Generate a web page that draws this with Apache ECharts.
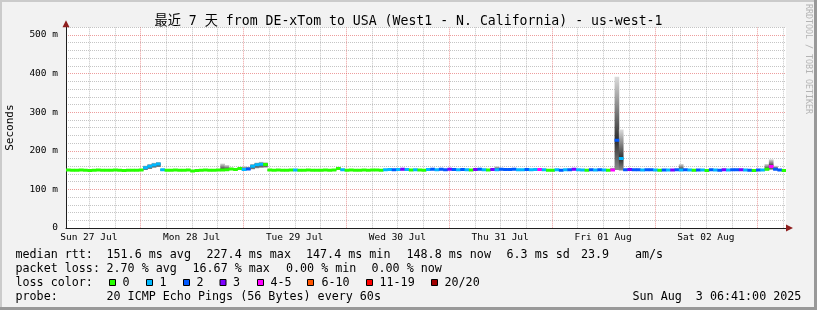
<!DOCTYPE html>
<html><head><meta charset="utf-8">
<script src="https://cdn.jsdelivr.net/npm/echarts@6/dist/echarts.min.js"></script>
<style>html,body{margin:0;padding:0;background:#f2f2f2;overflow:hidden}#c{width:817px;height:310px}</style>
</head><body><div id="c"></div>
<script>
// ---------------- data ----------------
const titleText = '最近 7 天 from DE-xTom to USA (West1 - N. California) - us-west-1';
const yAxisTitle = 'Seconds';
const dayLabels = ['Sun 27 Jul', 'Mon 28 Jul', 'Tue 29 Jul', 'Wed 30 Jul', 'Thu 31 Jul', 'Fri 01 Aug', 'Sat 02 Aug'];
const yTickValues = [0, 100, 200, 300, 400, 500];
const yTickLabels = ['0', '100 m', '200 m', '300 m', '400 m', '500 m'];

// hourly median RTT (ms), starting Sun 27 Jul 06:41
const median = [
  150.2,149.8,149.5,150.1,149.9,149.3,149.6,150.0,149.7,149.4,149.8,150.3,149.6,149.2,149.5,149.9,149.6,150.1,156.0,160.0,163.0,165.5,150.6,149.8,
  149.6,150.0,149.4,149.8,150.2,147.4,149.3,149.7,150.1,149.6,149.9,150.3,150.5,151.0,153.0,151.5,154.0,151.5,153.0,160.0,164.0,165.0,164.5,150.0,
  149.8,150.2,149.6,149.9,150.3,150.0,149.5,149.8,150.1,149.7,149.4,149.9,150.2,149.6,150.5,154.0,151.0,149.8,150.0,149.6,149.9,150.2,149.7,150.0,
  150.1,149.6,151.2,151.8,150.9,151.5,152.0,151.3,150.4,151.1,150.2,149.9,151.4,152.2,151.0,151.9,150.8,152.3,151.6,150.9,151.8,151.2,150.3,151.7,
  151.9,151.2,150.1,151.6,151.0,152.1,151.4,151.8,152.4,151.1,150.7,151.3,150.9,151.5,151.8,150.6,149.8,149.5,150.9,149.7,150.8,151.2,151.9,150.6,
  150.4,149.9,150.6,150.2,151.0,150.5,149.7,150.3,227.4,180.2,150.8,151.3,150.6,150.9,150.2,151.1,150.7,150.0,149.6,150.3,150.1,150.5,150.9,150.4,
  150.6,150.2,149.5,150.0,150.4,149.3,150.7,150.1,149.8,150.9,150.3,150.8,151.0,151.2,150.4,149.9,149.2,150.5,150.1,152.0,159.5,152.3,150.2,148.8
];
// lost pings out of 20, per hour
const loss = [
  0,0,0,0,0,0,0,0,0,0,0,0,0,0,0,0,0,0,1,1,1,1,1,0,
  0,0,0,0,0,0,0,0,0,0,0,0,0,0,0,0,0,1,2,1,1,1,0,0,
  0,0,0,0,0,1,0,0,0,0,0,0,0,0,0,0,1,0,0,0,0,0,0,0,
  0,0,1,1,2,1,3,1,0,1,0,0,1,2,1,2,2,3,2,1,2,1,0,3,
  2,1,0,3,1,2,2,2,2,1,1,2,1,1,4,1,0,0,1,2,1,2,3,1,
  1,0,2,1,2,1,0,4,2,1,2,3,2,2,1,2,2,1,0,2,1,3,2,1,
  2,1,0,2,1,0,2,1,2,3,1,2,2,3,1,2,0,2,1,0,4,2,2,0
];
// slowest ping per hour (ms)
const pingMax = [
  152.5,152.0,151.8,152.4,152.1,151.6,151.9,152.3,152.0,151.7,152.1,152.6,151.9,151.5,151.8,152.2,151.9,152.4,162.0,166.0,169.0,171.0,153.0,152.1,
  151.9,152.3,151.7,152.1,152.5,149.8,151.6,152.0,152.4,151.9,152.2,152.6,167.0,163.0,156.0,154.5,156.5,160.0,159.0,166.0,170.0,171.5,170.5,152.3,
  152.1,152.5,151.9,152.2,152.6,152.3,151.8,152.1,152.4,152.0,151.7,152.2,152.5,151.9,152.8,159.0,153.5,152.1,152.3,151.9,152.2,152.5,152.0,152.3,
  152.4,151.9,153.5,154.1,153.2,153.8,154.3,153.6,152.7,153.4,152.5,152.2,153.7,154.5,153.3,154.2,153.1,154.6,153.9,153.2,154.1,153.5,152.6,154.0,
  154.2,153.5,152.4,153.9,160.0,154.4,153.7,154.1,154.7,153.4,153.0,153.6,153.2,153.8,154.1,152.9,152.1,151.8,153.2,152.0,153.1,153.5,154.2,152.9,
  152.7,152.2,152.9,152.5,153.3,152.8,152.0,156.0,392.0,255.0,153.1,153.6,152.9,153.2,152.5,153.4,153.0,152.3,151.9,152.6,152.4,152.8,153.2,166.0,
  152.9,152.5,151.8,152.3,152.7,151.6,153.0,152.4,152.1,153.2,152.6,153.1,153.3,153.5,152.7,152.2,151.5,152.8,152.4,166.0,178.0,161.0,152.5,151.1
];
// fastest ping per hour (ms)
const pingMin = [
  148.3,147.9,147.6,148.2,148.0,147.4,147.7,148.1,147.8,147.5,147.9,148.4,147.7,147.3,147.6,148.0,147.7,148.2,150.0,153.0,156.0,158.0,148.4,147.9,
  147.7,148.1,147.5,147.9,148.3,145.6,147.4,147.8,148.2,147.7,148.0,148.4,148.3,148.8,150.8,149.8,151.3,149.3,150.8,152.0,155.0,156.0,156.5,148.1,
  147.9,148.3,147.7,148.0,148.4,148.1,147.6,147.9,148.2,147.8,147.5,148.0,148.3,147.7,148.3,150.0,149.0,147.9,148.1,147.7,148.0,148.3,147.8,148.1,
  148.2,147.7,149.0,149.6,148.7,149.3,149.8,149.1,148.2,148.9,148.0,147.7,149.2,150.0,148.8,149.7,148.6,150.1,149.4,148.7,149.6,149.0,148.1,149.5,
  149.7,149.0,147.9,149.4,148.8,149.9,149.2,149.6,150.2,148.9,148.5,149.1,148.7,149.3,149.6,148.4,147.6,147.3,148.7,147.5,148.6,149.0,149.7,148.4,
  148.2,147.7,148.4,148.0,148.8,148.3,147.5,148.1,150.0,149.0,148.6,149.1,148.4,148.7,148.0,148.9,148.5,147.8,147.4,148.1,147.9,148.3,148.7,148.2,
  148.4,148.0,147.3,147.8,148.2,147.1,148.5,147.9,147.6,148.7,148.1,148.6,148.8,149.0,148.2,147.7,147.0,148.3,147.9,149.8,151.0,150.1,148.0,146.6
];

const lossLegend = ['0', '1', '2', '3', '4-5', '6-10', '11-19', '20/20'];
const lossColors = ['#26ff00', '#00b8ff', '#0059ff', '#7e00ff', '#ff00ff', '#ff5500', '#ff0000', '#a10000'];
const statsRtt = ['median rtt:', '151.6 ms avg', '227.4 ms max', '147.4 ms min', '148.8 ms now', '6.3 ms sd', '23.9', 'am/s'];
const statsLoss = ['packet loss:', '2.70 % avg', '16.67 % max', '0.00 % min', '0.00 % now'];
const lossTitle = 'loss color:';
const probeRow = ['probe:', '20 ICMP Echo Pings (56 Bytes) every 60s', 'Sun Aug  3 06:41:00 2025'];
const creditText = 'RRDTOOL / TOBI OETIKER';

// ---------------- layout / style ----------------
const MONO = "'DejaVu Sans Mono', 'Noto Sans CJK SC', monospace";
const HOUR = 3600000;
const t0 = Date.UTC(2025, 6, 27, 6, 41);
const tEnd = t0 + median.length * HOUR;
const firstNoon = Date.UTC(2025, 6, 27, 12, 0);
const labelTimes = dayLabels.map((_, k) => firstNoon + k * 24 * HOUR);
const gridTimes = [];
for (let t = firstNoon; t < tEnd; t += 6 * HOUR) gridTimes.push([t]);

const rows = median.map((m, i) => [t0 + i * HOUR, t0 + (i + 1) * HOUR, m, loss[i], pingMax[i], pingMin[i]]);

function lossBucket(l) {
  if (l <= 0) return 0; if (l <= 1) return 1; if (l <= 2) return 2; if (l <= 3) return 3;
  if (l <= 5) return 4; if (l <= 10) return 5; if (l <= 19) return 6; return 7;
}

const GRID_MINOR = 'rgba(140,140,140,0.5)';
const GRID_MAJOR = 'rgba(220,60,60,0.5)';
const AXIS_COLOR = '#1f1f1f';
const ARROW_COLOR = '#8f1f1f';

function vGridItem(params, api) {
  const t = api.value(0);
  const top = api.coord([t, 520]);
  const bot = api.coord([t, 0]);
  const x = Math.round(bot[0]) + 0.5;
  const midnight = new Date(t).getUTCHours() === 0;
  return {
    type: 'line', silent: true,
    shape: { x1: x, y1: top[1], x2: x, y2: bot[1] },
    style: { stroke: midnight ? GRID_MAJOR : GRID_MINOR, lineWidth: 1, lineDash: [1, 1] }
  };
}
function smokeItem(params, api) {
  const a = api.coord([api.value(0), api.value(4)]);
  const b = api.coord([api.value(1), api.value(5)]);
  const m = api.coord([api.value(0), api.value(2)]);
  const h = b[1] - a[1];
  const off = h > 0 ? Math.min(1, Math.max(0, (m[1] - a[1]) / h)) : 0.5;
  return {
    type: 'rect',
    shape: { x: a[0], y: a[1], width: b[0] - a[0] + 0.4, height: h },
    style: { fill: new echarts.graphic.LinearGradient(0, 0, 0, 1, [
      { offset: 0, color: '#dcdcdc' }, { offset: off, color: '#2c2c2c' }, { offset: 1, color: '#8c8c8c' }]) }
  };
}
function medianItem(params, api) {
  const a = api.coord([api.value(0), api.value(2)]);
  const b = api.coord([api.value(1), api.value(2)]);
  return {
    type: 'rect',
    shape: { x: a[0], y: a[1] - 1.5, width: b[0] - a[0] + 0.4, height: 3 },
    style: { fill: lossColors[lossBucket(api.value(3))] }
  };
}

function txt(s, x, y, size, color) {
  return { type: 'text', x: x, y: y, silent: true,
    style: { text: s, fill: color || '#000', fontSize: size, fontFamily: MONO, align: 'left', verticalAlign: 'middle' } };
}
const LEG = 11.7;
const rowY = [254.5, 268.5, 282.5, 296.5];
const elements = [
  { type: 'rect', shape: { x: 0, y: 0, width: 817, height: 2 }, style: { fill: '#cbcbcb' }, silent: true },
  { type: 'rect', shape: { x: 0, y: 0, width: 2, height: 310 }, style: { fill: '#cbcbcb' }, silent: true },
  { type: 'rect', shape: { x: 0, y: 307, width: 817, height: 3 }, style: { fill: '#999' }, silent: true },
  { type: 'rect', shape: { x: 814, y: 0, width: 3, height: 310 }, style: { fill: '#999' }, silent: true },
  { type: 'text', x: 808, y: 4, rotation: -Math.PI / 2, silent: true,
    style: { text: creditText, fill: '#b4b4b4', fontSize: 8.3, fontFamily: MONO, align: 'left', verticalAlign: 'middle' } }
];
const rttX = [15.5, 106.5, 206.5, 306, 406.5, 506.5, 581, 635];
statsRtt.forEach((s, i) => elements.push(txt(s, rttX[i], rowY[0], LEG)));
const lossX = [15.5, 106.5, 192.5, 286, 371.5];
statsLoss.forEach((s, i) => elements.push(txt(s, lossX[i], rowY[1], LEG)));
elements.push(txt(lossTitle, 15.5, rowY[2], LEG));
const boxX = [109, 146, 183, 219.5, 257, 307, 366, 431];
const boxLabelX = [122.5, 159.5, 196.5, 233, 270.5, 321.5, 379.5, 444.5];
lossLegend.forEach((s, i) => {
  elements.push({ type: 'rect', silent: true, shape: { x: boxX[i] + 0.5, y: 279.5, width: 6, height: 6 },
    style: { fill: lossColors[i], stroke: '#000', lineWidth: 1 } });
  elements.push(txt(s, boxLabelX[i], rowY[2], LEG));
});
const probeX = [15.5, 106.5, 632.5];
probeRow.forEach((s, i) => elements.push(txt(s, probeX[i], rowY[3], LEG)));

const chart = echarts.init(document.getElementById('c'), null, { renderer: 'canvas', width: 817, height: 310 });
chart.setOption({
  backgroundColor: '#f2f2f2',
  animation: false,
  title: { text: titleText, left: 'center', top: 15, padding: 0,
    textStyle: { fontFamily: MONO, fontSize: 13.2, fontWeight: 'normal', color: '#000' } },
  grid: { left: 66, right: 31, top: 27.3, bottom: 82, show: true, backgroundColor: '#fff', borderWidth: 0, containLabel: false, outerBoundsMode: 'none' },
  xAxis: [{
    type: 'value', min: t0, max: tEnd,
    axisLine: { show: true, onZero: false, lineStyle: { color: AXIS_COLOR, width: 1 } },
    axisTick: { show: false },
    axisLabel: { customValues: labelTimes, margin: 5, color: '#000', fontFamily: MONO, fontSize: 9.5,
      formatter: v => dayLabels[Math.round((v - firstNoon) / (24 * HOUR))] || '' },
    splitLine: { show: false }
  }, {
    type: 'value', min: t0, max: tEnd, position: 'bottom', offset: 0,
    axisLine: { show: true, onZero: false, symbol: ['none', 'triangle'], symbolSize: [7, 7], symbolOffset: [0, 3.5],
      lineStyle: { color: ARROW_COLOR, width: 0 } },
    axisTick: { show: false }, axisLabel: { show: false }, splitLine: { show: false }
  }],
  yAxis: [{
    type: 'value', min: 0, max: 520, interval: 20,
    name: yAxisTitle, nameLocation: 'middle', nameGap: 50, nameRotate: 90,
    nameTextStyle: { fontFamily: MONO, fontSize: 11, color: '#000' },
    axisLine: { show: true, onZero: false, lineStyle: { color: AXIS_COLOR, width: 1 } },
    axisTick: { show: false },
    axisLabel: { customValues: yTickValues, margin: 8, color: '#000', fontFamily: MONO, fontSize: 9.5,
      formatter: v => yTickLabels[yTickValues.indexOf(v)] || '' },
    splitLine: { show: true, lineStyle: { color: [GRID_MAJOR, GRID_MINOR, GRID_MINOR, GRID_MINOR, GRID_MINOR], type: [1, 1], width: 1 } }
  }, {
    type: 'value', min: 0, max: 520, position: 'left', offset: 0,
    axisLine: { show: true, onZero: false, symbol: ['none', 'triangle'], symbolSize: [7, 7], symbolOffset: [0, 3.5],
      lineStyle: { color: ARROW_COLOR, width: 0 } },
    axisTick: { show: false }, axisLabel: { show: false }, splitLine: { show: false }
  }],
  series: [{
    type: 'custom', name: 'grid', xAxisIndex: 0, yAxisIndex: 0, clip: true, z: 1,
    renderItem: vGridItem, data: gridTimes, encode: { x: 0 }, silent: true
  }, {
    type: 'custom', name: 'smoke', xAxisIndex: 0, yAxisIndex: 0, clip: true, z: 2,
    renderItem: smokeItem, data: rows, encode: { x: [0, 1], y: [4, 5] }, silent: true
  }, {
    type: 'custom', name: 'median', xAxisIndex: 0, yAxisIndex: 0, clip: true, z: 3,
    renderItem: medianItem, data: rows, encode: { x: [0, 1], y: 2 }, silent: true
  }],
  graphic: { elements: elements }
});
</script>
</body></html>
